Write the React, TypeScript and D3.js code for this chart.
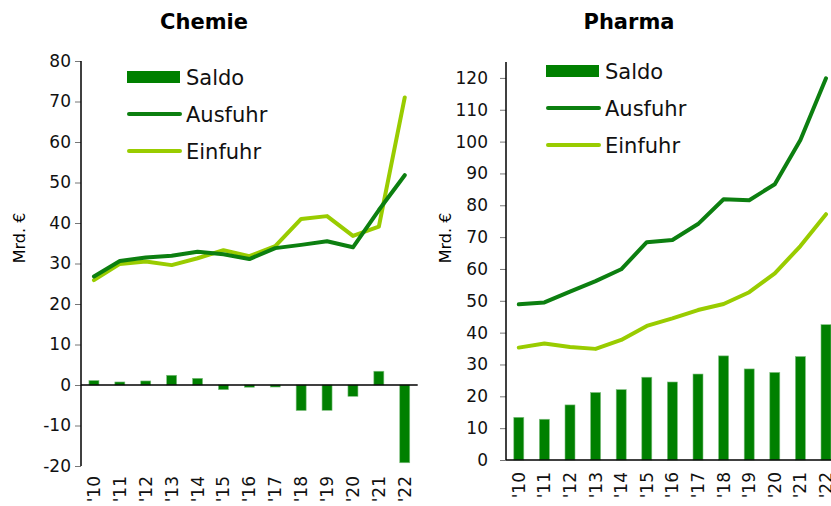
import { useEffect, useRef } from 'react'
import * as d3 from 'd3'

const years = ["'10", "'11", "'12", "'13", "'14", "'15", "'16", "'17", "'18", "'19", "'20", "'21", "'22"]

const chemieSaldo = [1.1, 0.75, 1.0, 2.4, 1.65, -1.15, -0.55, -0.5, -6.3, -6.25, -2.8, 3.4, -19.2]
const chemieAusfuhr = [26.8, 30.6, 31.5, 31.9, 32.9, 32.3, 31.1, 33.8, 34.6, 35.5, 34.0, 43.2, 51.8]
const chemieEinfuhr = [25.9, 29.9, 30.5, 29.6, 31.3, 33.3, 31.8, 34.3, 41.0, 41.7, 36.8, 39.1, 71.0]
const chemieTicks = [-20, -10, 0, 10, 20, 30, 40, 50, 60, 70, 80]

const pharmaSaldo = [13.4, 12.8, 17.3, 21.2, 22.1, 26.0, 24.5, 27.0, 32.7, 28.6, 27.5, 32.5, 42.5]
const pharmaAusfuhr = [48.9, 49.5, 52.9, 56.2, 59.9, 68.4, 69.1, 74.1, 81.9, 81.6, 86.6, 100.5, 119.9]
const pharmaEinfuhr = [35.3, 36.6, 35.5, 34.9, 37.7, 42.1, 44.5, 47.1, 49.0, 52.7, 58.6, 67.2, 77.2]
const pharmaTicks = [0, 10, 20, 30, 40, 50, 60, 70, 80, 90, 100, 110, 120]

const SALDO = '#008000'
const AUS = '#0c7f10'
const EIN = '#99cc00'
const FONT = '"DejaVu Sans", Verdana, sans-serif'

interface PanelCfg {
  title: string
  titleX: number
  saldo: number[]
  ausfuhr: number[]
  einfuhr: number[]
  ticks: number[]
  domain: [number, number]
  yRange: [number, number]
  axisX: number
  step: number
  tickPad: number
  labelX: number
  labelTop: number
  legendX: number
  legendY: number
}

const panels: PanelCfg[] = [
  {
    title: 'Chemie', titleX: 204,
    saldo: chemieSaldo, ausfuhr: chemieAusfuhr, einfuhr: chemieEinfuhr,
    ticks: chemieTicks, domain: [-20, 80], yRange: [466, 61],
    axisX: 81, step: 25.9, tickPad: 4, labelX: 19, labelTop: 476,
    legendX: 127, legendY: 77,
  },
  {
    title: 'Pharma', titleX: 629,
    saldo: pharmaSaldo, ausfuhr: pharmaAusfuhr, einfuhr: pharmaEinfuhr,
    ticks: pharmaTicks, domain: [0, 125], yRange: [460, 62],
    axisX: 506, step: 25.6, tickPad: 12, labelX: 445, labelTop: 472,
    legendX: 546, legendY: 71,
  },
]

export default function App() {
  const svgRef = useRef<SVGSVGElement>(null)

  useEffect(() => {
    if (!svgRef.current) return
    const svg = d3.select(svgRef.current)
    svg.selectAll('*').remove()

    panels.forEach(p => {
      const g = svg.append('g').attr('font-family', FONT)

      const x = d3.scaleBand<string>()
        .domain(years)
        .range([p.axisX, p.axisX + p.step * years.length])
      const y = d3.scaleLinear().domain(p.domain).range(p.yRange)
      const cx = (i: number) => x(years[i])! + x.bandwidth() / 2

      // Title
      g.append('text')
        .attr('x', p.titleX).attr('y', 29)
        .attr('text-anchor', 'middle')
        .attr('font-weight', 'bold')
        .attr('font-size', 21)
        .text(p.title)

      // Y axis
      g.append('g')
        .attr('transform', `translate(${p.axisX},0)`)
        .call(d3.axisLeft(y).tickValues(p.ticks).tickSize(6).tickPadding(p.tickPad).tickFormat(d => String(d)))
        .call(gg => gg.select('.domain').remove())
        .call(gg => gg.selectAll('line').attr('stroke', '#777'))
        .call(gg => gg.selectAll('text').attr('font-size', 17).attr('fill', '#111').attr('font-family', FONT))

      g.append('line')
        .attr('x1', p.axisX).attr('x2', p.axisX)
        .attr('y1', p.yRange[1]).attr('y2', p.yRange[0])
        .attr('stroke', '#000').attr('stroke-width', 1.5)

      g.append('text')
        .attr('transform', `translate(${p.labelX},238) rotate(-90)`)
        .attr('text-anchor', 'middle')
        .attr('dy', '0.35em')
        .attr('font-size', 16)
        .text('Mrd. €')

      // Bars
      g.selectAll('.bar')
        .data(p.saldo)
        .enter()
        .append('rect')
        .attr('x', (_, i) => cx(i) - 5)
        .attr('width', 10)
        .attr('y', d => Math.min(y(d), y(0)))
        .attr('height', d => Math.abs(y(d) - y(0)))
        .attr('fill', SALDO)
        .attr('stroke', '#7fbf7f')
        .attr('stroke-width', 0.6)

      // Zero line / x axis
      g.append('line')
        .attr('x1', p.axisX).attr('x2', x.range()[1])
        .attr('y1', y(0)).attr('y2', y(0))
        .attr('stroke', '#000').attr('stroke-width', 1.5)

      // Lines
      const line = d3.line<number>()
        .x((_, i) => cx(i))
        .y(d => y(d))

      g.append('path')
        .datum(p.einfuhr)
        .attr('fill', 'none')
        .attr('stroke', EIN)
        .attr('stroke-width', 4)
        .attr('stroke-linejoin', 'round')
        .attr('stroke-linecap', 'round')
        .attr('d', line)

      g.append('path')
        .datum(p.ausfuhr)
        .attr('fill', 'none')
        .attr('stroke', AUS)
        .attr('stroke-width', 4)
        .attr('stroke-linejoin', 'round')
        .attr('stroke-linecap', 'round')
        .attr('d', line)

      // X labels
      years.forEach((yr, i) => {
        g.append('text')
          .attr('transform', `translate(${cx(i)},${p.labelTop}) rotate(-90)`)
          .attr('text-anchor', 'end')
          .attr('dy', '0.35em')
          .attr('font-size', 17)
          .attr('fill', '#111')
          .text(yr)
      })

      // Legend
      const lx = p.legendX
      const ly = p.legendY
      g.append('rect')
        .attr('x', lx).attr('y', ly - 6)
        .attr('width', 53).attr('height', 12)
        .attr('fill', SALDO)
      const items = [
        { name: 'Saldo', color: '' },
        { name: 'Ausfuhr', color: AUS },
        { name: 'Einfuhr', color: EIN },
      ]
      items.forEach((it, k) => {
        const yy = ly + k * 37
        if (it.color) {
          g.append('line')
            .attr('x1', lx + 2).attr('x2', lx + 53)
            .attr('y1', yy).attr('y2', yy)
            .attr('stroke', it.color)
            .attr('stroke-width', 4)
            .attr('stroke-linecap', 'round')
        }
        g.append('text')
          .attr('x', lx + 59).attr('y', yy)
          .attr('dy', '0.36em')
          .attr('font-size', 21)
          .attr('fill', '#111')
          .text(it.name)
      })
    })
  }, [])

  return (
    <svg
      ref={svgRef}
      width={831}
      height={506}
      style={{ position: 'absolute', left: 0, top: 0, background: '#fff' }}
    />
  )
}
